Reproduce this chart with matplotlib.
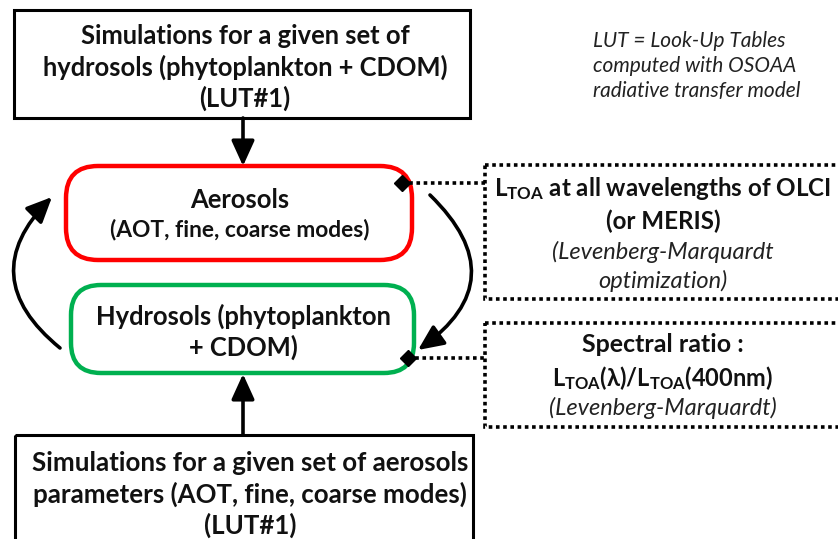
import matplotlib
matplotlib.use("Agg")
import matplotlib.pyplot as plt
from matplotlib.patches import FancyBboxPatch, Rectangle, FancyArrowPatch

plt.rcParams['mathtext.fontset'] = 'custom'
plt.rcParams['mathtext.rm'] = 'Lato:bold'
plt.rcParams['mathtext.it'] = 'Lato:bold'
plt.rcParams['mathtext.bf'] = 'Lato:bold'

FONT = ['Lato', 'DejaVu Sans']

top_box_lines = ["Simulations for a given set of",
                 "hydrosols (phytoplankton + CDOM)",
                 "(LUT#1)"]
bottom_box_lines = ["Simulations for a given set of aerosols",
                    "parameters (AOT, fine, coarse modes)",
                    "(LUT#1)"]
aerosol_lines = ["Aerosols", "(AOT, fine, coarse modes)"]
hydrosol_lines = ["Hydrosols (phytoplankton", "+ CDOM)"]
ltoa_lines = [r"L$_{\mathrm{TOA}}$ at all wavelengths of OLCI", "(or MERIS)"]
ltoa_italic = ["(Levenberg-Marquardt", "optimization)"]
ratio_lines = ["Spectral ratio :", r"L$_{\mathrm{TOA}}$(λ)/L$_{\mathrm{TOA}}$(400nm)"]
ratio_italic = ["(Levenberg-Marquardt)"]
note_lines = ["LUT = Look-Up Tables", "computed with OSOAA", "radiative transfer model"]

W, H = 838, 539
fig = plt.figure(figsize=(W / 100, H / 100), dpi=100)
ax = fig.add_axes([0, 0, 1, 1])
ax.set_xlim(0, W)
ax.set_ylim(H, 0)
ax.axis('off')

# Solid boxes
ax.add_patch(Rectangle((14, 10), 456, 108, fill=False, ec='black', lw=2.2))
ax.add_patch(Rectangle((15, 435), 458, 120, fill=False, ec='black', lw=2.2))

# Rounded boxes
ax.add_patch(FancyBboxPatch((66, 166), 346, 94, boxstyle="round,pad=0,rounding_size=32",
                            fill=False, ec='#ff0000', lw=3.2))
ax.add_patch(FancyBboxPatch((71, 285), 343, 88, boxstyle="round,pad=0,rounding_size=30",
                            fill=False, ec='#00b050', lw=3.2))

# Dotted boxes
dot = (0, (1, 1))
ax.add_patch(Rectangle((485, 165), 370, 134, fill=False, ec='black', lw=2.6, ls=dot))
ax.add_patch(Rectangle((485, 323), 370, 104, fill=False, ec='black', lw=2.6, ls=dot))
ax.plot([402, 485], [183, 183], color='black', lw=2.6, ls=dot)
ax.plot([408, 485], [358, 358], color='black', lw=2.6, ls=dot)

# Diamonds
ax.plot([402, 408], [183, 358], ls='none', marker='D', ms=8, color='black')

# Straight arrows
astyle = "-|>,head_length=1.1,head_width=0.5"
ax.add_patch(FancyArrowPatch((243, 118), (243, 166), arrowstyle=astyle,
                             mutation_scale=14, lw=2.6, color='black', shrinkA=0, shrinkB=0))
ax.add_patch(FancyArrowPatch((243, 435), (243, 374), arrowstyle=astyle,
                             mutation_scale=14, lw=2.6, color='black', shrinkA=0, shrinkB=0))

# Curved arrows
ax.add_patch(FancyArrowPatch((60, 348), (52, 197), arrowstyle=astyle,
                             connectionstyle="arc3,rad=-0.55",
                             mutation_scale=14, lw=2.6, color='black', shrinkA=0, shrinkB=0))
ax.add_patch(FancyArrowPatch((430, 195), (418, 350), arrowstyle=astyle,
                             connectionstyle="arc3,rad=-0.6",
                             mutation_scale=14, lw=2.6, color='black', shrinkA=0, shrinkB=0))

bold = dict(family=FONT, fontweight='bold', ha='center', va='center', color='#111111')
ital = dict(family=FONT, style='italic', ha='center', va='center', color='#222222')

for i, s in enumerate(top_box_lines):
    ax.text(245, 36 + 31 * i, s, fontsize=18.4, **bold)
for i, s in enumerate(bottom_box_lines):
    ax.text(250, 463 + 31 * i, s, fontsize=18.6, **bold)
ax.text(240, 200, aerosol_lines[0], fontsize=18.4, **bold)
ax.text(240, 230, aerosol_lines[1], fontsize=16.4, **bold)
for i, s in enumerate(hydrosol_lines):
    ax.text(243, 316 + 31 * i, s, fontsize=18.4, **bold)
for i, s in enumerate(ltoa_lines):
    ax.text(663, 189 + 32 * i, s, fontsize=17.4, **bold)
for i, s in enumerate(ltoa_italic):
    ax.text(663, 252 + 29 * i, s, fontsize=17, **ital)
ax.text(663, 345, ratio_lines[0], fontsize=18, **bold)
ax.text(663, 378, ratio_lines[1], fontsize=17, **bold)
for i, s in enumerate(ratio_italic):
    ax.text(663, 408, s, fontsize=17, **ital)
for i, s in enumerate(note_lines):
    ax.text(593, 41 + 25 * i, s, fontsize=15, family=FONT, style='italic',
            ha='left', va='center', color='#222222')

fig.savefig("out.png", dpi=100)
